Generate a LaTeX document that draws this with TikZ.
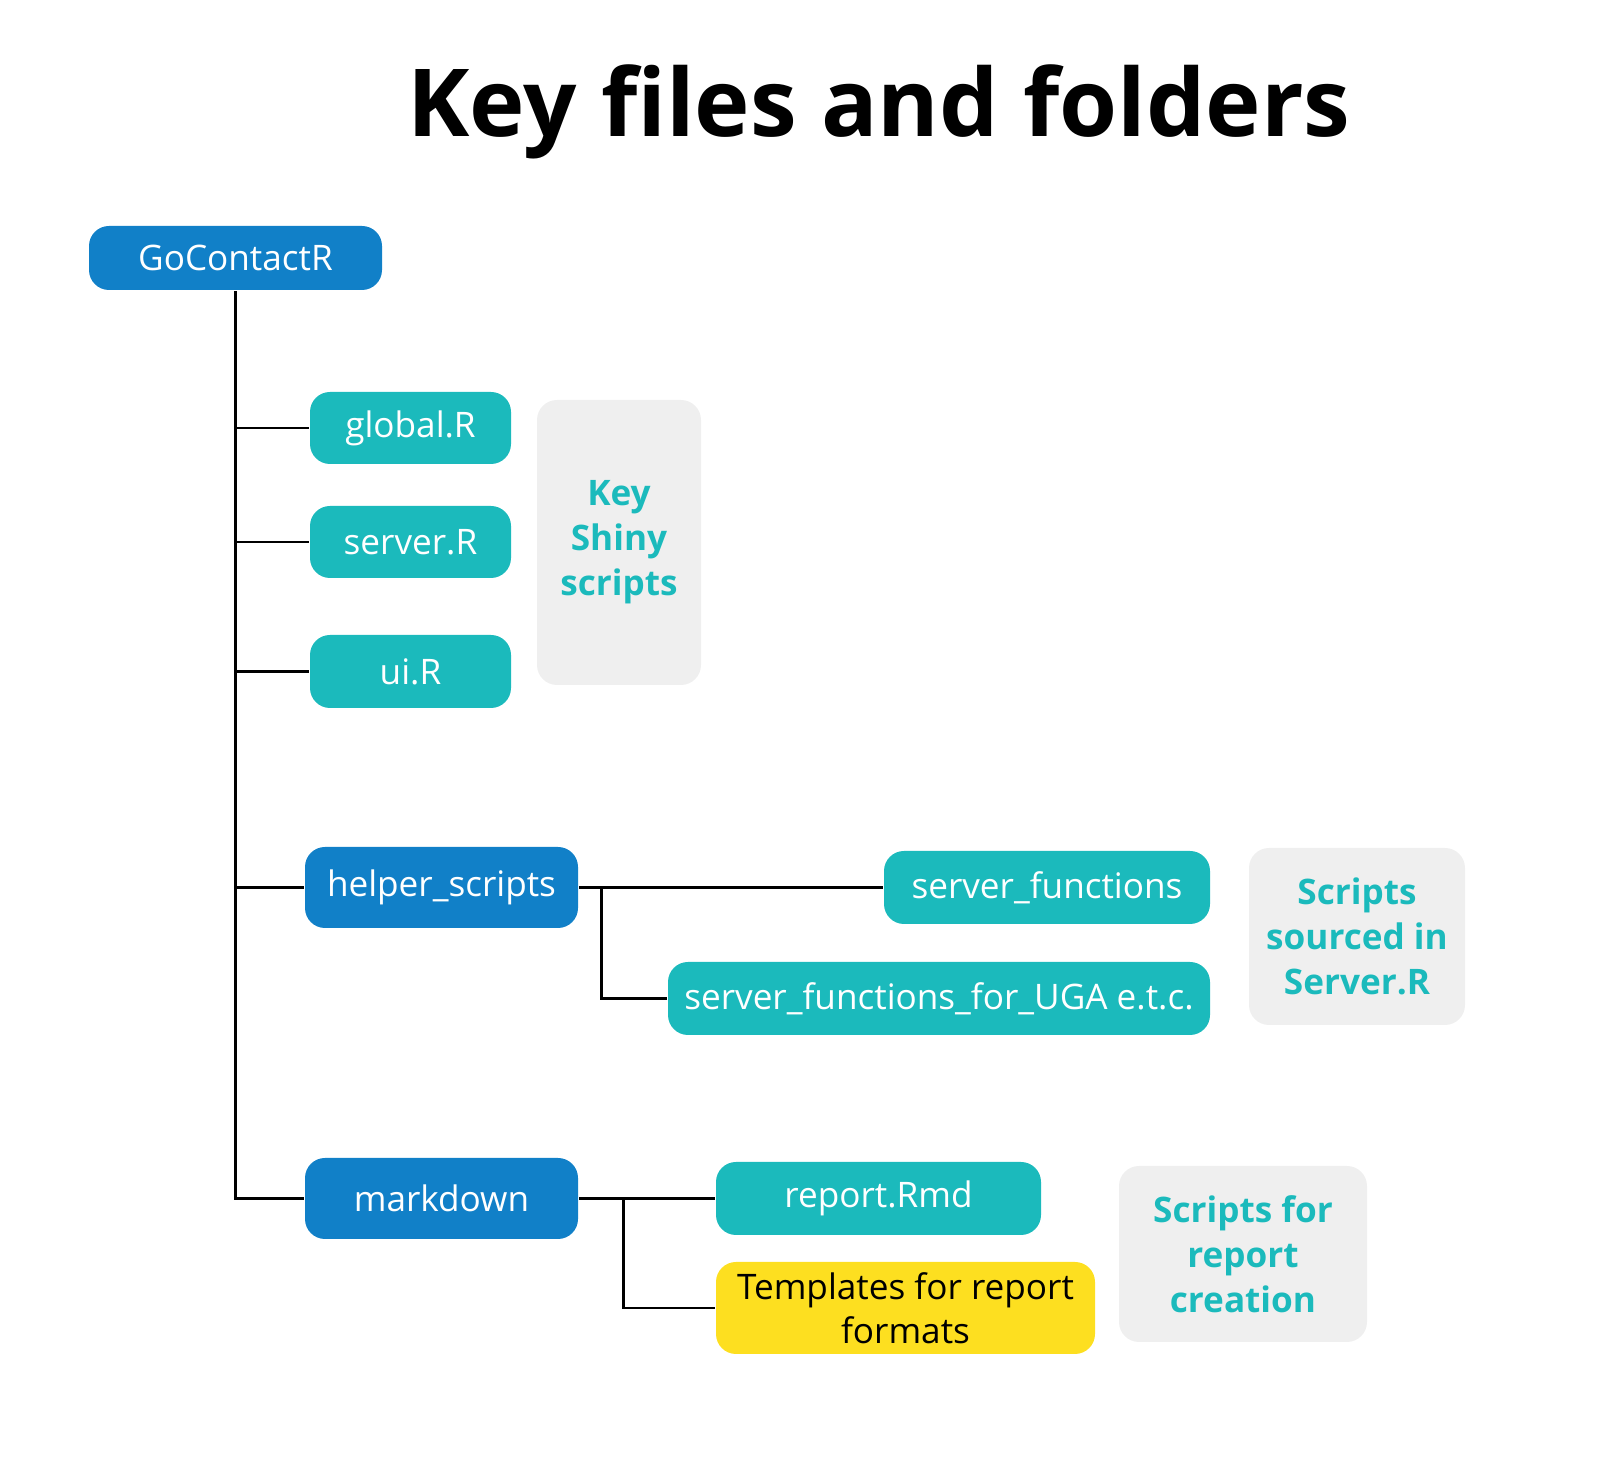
\documentclass[tikz,border=0pt]{standalone}
\usepackage{fontspec}
\setmainfont{Open Sans}
\usetikzlibrary{positioning}
\definecolor{folderblue}{RGB}{17,128,200}
\definecolor{fileteal}{RGB}{27,186,188}
\definecolor{notegray}{RGB}{239,239,239}
\definecolor{tplyellow}{RGB}{253,223,32}
\begin{document}
\begin{tikzpicture}[line width=0.75pt, every node/.style={inner sep=0pt}]
  \tikzstyle{folder}=[rounded corners=0.2cm,fill=folderblue,text=white,font=\fontsize{10}{12.8}\selectfont]
  \tikzstyle{file}=[rounded corners=0.2cm,fill=fileteal,text=white,font=\fontsize{10}{12.8}\selectfont]
  \tikzstyle{tpl}=[rounded corners=0.2cm,fill=tplyellow,text=black,align=center,font=\fontsize{10}{12.6}\selectfont]
  \tikzstyle{note}=[rounded corners=0.2cm,fill=notegray,text=fileteal,align=center,font=\bfseries\fontsize{10}{12.8}\selectfont]

  \useasboundingbox (0,0) rectangle (16.07,-14.79);

  \node (title) at (8.79,-1.12) {\bfseries\fontsize{26.7}{30}\selectfont Key files and folders};

  \node[folder, minimum width=2.93cm, minimum height=0.64cm] (root) at (2.355,-2.58) {GoContactR};

  \node[file, minimum width=2.01cm, minimum height=0.72cm] (global) at (4.105,-4.28) {global.R};
  \node[file, minimum width=2.01cm, minimum height=0.72cm] (server) at (4.105,-5.42) {server.R};
  \node[file, minimum width=2.01cm, minimum height=0.73cm] (ui) at (4.105,-6.715) {ui.R};
  \node[note, minimum width=1.64cm, minimum height=2.85cm] (shiny) at (6.19,-5.425) {Key\\Shiny\\scripts};

  \node[folder, minimum width=2.73cm, minimum height=0.81cm] (helper) at (4.415,-8.875) {helper\_scripts};
  \node[file, minimum width=3.26cm, minimum height=0.73cm] (sfun) at (10.47,-8.875) {server\_functions};
  \node[file, minimum width=5.42cm, minimum height=0.73cm] (sfuga) at (9.39,-9.985) {server\_functions\_for\_UGA e.t.c.};
  \node[note, minimum width=2.16cm, minimum height=1.77cm] (sourced) at (13.57,-9.365) {Scripts\\sourced in\\Server.R};

  \node[folder, minimum width=2.73cm, minimum height=0.81cm] (markdown) at (4.415,-11.985) {markdown};
  \node[file, minimum width=3.25cm, minimum height=0.73cm] (report) at (8.785,-11.985) {report.Rmd};
  \node[tpl, minimum width=3.79cm, minimum height=0.92cm] (templ) at (9.055,-13.08) {Templates for report\\formats};
  \node[note, minimum width=2.48cm, minimum height=1.76cm] (creation) at (12.43,-12.54) {Scripts for\\report\\creation};

  % tree lines
  \draw (root.south) |- (markdown.west);
  \draw (root.south |- global) -- (global.west);
  \draw (root.south |- server) -- (server.west);
  \draw (root.south |- ui) -- (ui.west);
  \draw (root.south |- helper) -- (helper.west);

  \draw (helper.east) -- (sfun.west);
  \draw ([xshift=0.22cm]helper.east) |- (sfuga.west);
  \draw (markdown.east) -- (report.west);
  \draw ([xshift=0.44cm]markdown.east) |- (templ.west);
\end{tikzpicture}
\end{document}
